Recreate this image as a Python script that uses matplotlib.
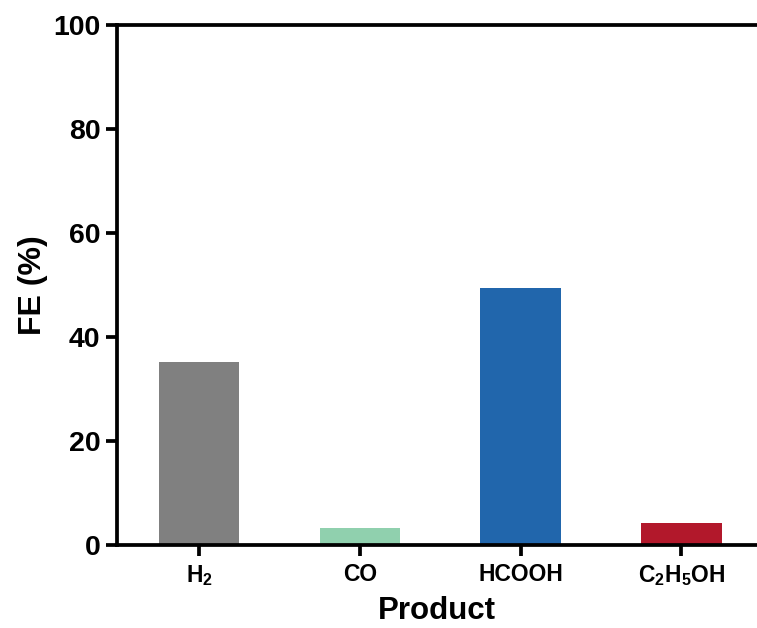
import matplotlib
matplotlib.use("Agg")
import matplotlib.pyplot as plt

plt.rcParams['font.family'] = ['Liberation Sans', 'DejaVu Sans']
plt.rcParams['font.weight'] = 'bold'
plt.rcParams['mathtext.fontset'] = 'custom'
plt.rcParams['mathtext.rm'] = 'Liberation Sans:bold'
plt.rcParams['mathtext.default'] = 'rm'

products = ['H$_2$', 'CO', 'HCOOH', 'C$_2$H$_5$OH']
fe_values = [35.2, 3.2, 49.4, 4.2]
colors = ['#808080', '#90d0ae', '#2166ac', '#b2182b']

W, H = 757, 628
fig = plt.figure(figsize=(W/100, H/100), dpi=100)
left, right, top, bottom = 117, 757, 25, 545
ax = fig.add_axes([left/W, 1 - bottom/H, (right-left)/W, (bottom-top)/H])

x = list(range(len(products)))
ax.bar(x, fe_values, width=0.50, color=colors)
ax.set_xlim(-0.51, 3.47)
ax.set_ylim(0, 100)
ax.set_yticks([0, 20, 40, 60, 80, 100])
ax.set_xticks(x)
ax.set_xticklabels(products, fontsize=16.5, fontweight='bold')
ax.tick_params(axis='y', labelsize=20.5, width=2.7, length=8, direction='out', pad=4)
ax.tick_params(axis='x', width=2.7, length=8, direction='out', pad=5)
for lab in ax.get_yticklabels():
    lab.set_fontweight('bold')
for s in ['left', 'bottom', 'top']:
    ax.spines[s].set_linewidth(2.7)
ax.spines['right'].set_visible(False)
ax.set_xlabel('Product', fontsize=22.5, fontweight='bold', labelpad=6)
ax.set_ylabel('FE (%)', fontsize=23, fontweight='bold', labelpad=4)

fig.savefig('out.png', dpi=100)
